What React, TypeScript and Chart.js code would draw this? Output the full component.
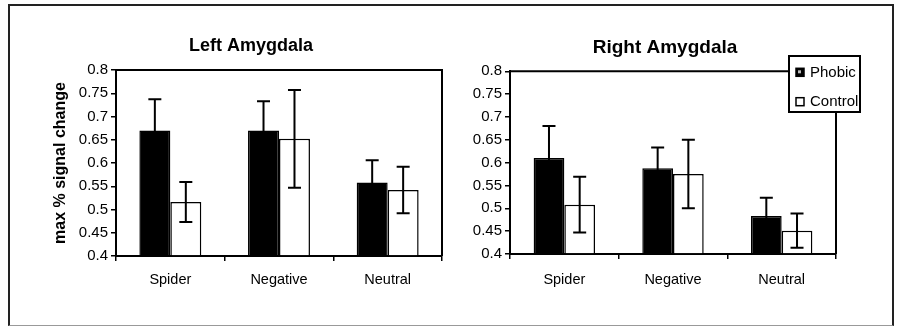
import { useEffect, useRef } from 'react';
import { Chart, registerables } from 'chart.js';

Chart.register(...registerables);

const categories = ['Spider', 'Negative', 'Neutral'];
const seriesNames = ['Phobic', 'Control'];
const yTickLabels = ['0.4', '0.45', '0.5', '0.55', '0.6', '0.65', '0.7', '0.75', '0.8'];
const yAxisTitle = 'max % signal change';
const leftTitle = 'Left Amygdala';
const rightTitle = 'Right Amygdala';

const leftPhobic = [0.67, 0.67, 0.558];
const leftPhobicErr = [0.067, 0.063, 0.048];
const leftControl = [0.516, 0.652, 0.542];
const leftControlErr = [0.043, 0.105, 0.05];

const rightPhobic = [0.61, 0.588, 0.483];
const rightPhobicErr = [0.07, 0.045, 0.04];
const rightControl = [0.508, 0.575, 0.451];
const rightControlErr = [0.061, 0.075, 0.0375];

const FONT = "'Liberation Sans', Arial, Helvetica, sans-serif";

const errorBarsPlugin = {
  id: 'errorBars',
  afterDatasetsDraw(chart: any) {
    const { ctx } = chart;
    const yScale = chart.scales.y;
    ctx.save();
    ctx.strokeStyle = '#000';
    ctx.lineWidth = 2;
    chart.data.datasets.forEach((ds: any, di: number) => {
      const meta = chart.getDatasetMeta(di);
      meta.data.forEach((bar: any, i: number) => {
        const v = ds.data[i];
        const e = ds.errors[i];
        const x = bar.x;
        const yTop = yScale.getPixelForValue(v + e);
        const yBot = yScale.getPixelForValue(v - e);
        const cap = 6.5;
        ctx.beginPath();
        ctx.moveTo(x, yTop);
        ctx.lineTo(x, yBot);
        ctx.moveTo(x - cap, yTop);
        ctx.lineTo(x + cap, yTop);
        ctx.moveTo(x - cap, yBot);
        ctx.lineTo(x + cap, yBot);
        ctx.stroke();
      });
    });
    ctx.restore();
  },
};

const plotFramePlugin = {
  id: 'plotFrame',
  afterDatasetsDraw(chart: any) {
    const { ctx, chartArea } = chart;
    ctx.save();
    ctx.strokeStyle = '#000';
    ctx.lineWidth = 2;
    ctx.beginPath();
    ctx.moveTo(chartArea.left, chartArea.top);
    ctx.lineTo(chartArea.right, chartArea.top);
    ctx.lineTo(chartArea.right, chartArea.bottom);
    ctx.stroke();
    ctx.restore();
  },
};

const boxLegendPlugin = {
  id: 'boxLegend',
  afterDraw(chart: any, _args: any, opts: any) {
    if (!opts || !opts.display) return;
    const { ctx, chartArea } = chart;
    const x = chartArea.right + opts.dx;
    const y = chartArea.top + opts.dy;
    const w = opts.w;
    const h = opts.h;
    ctx.save();
    ctx.fillStyle = '#fff';
    ctx.fillRect(x, y, w, h);
    ctx.lineWidth = 2;
    ctx.strokeStyle = '#000';
    ctx.strokeRect(x, y, w, h);
    chart.data.datasets.forEach((ds: any, i: number) => {
      const cy = y + opts.rows[i];
      ctx.fillStyle = ds.backgroundColor;
      ctx.fillRect(x + 7, cy - 4, 8, 8);
      ctx.lineWidth = 1.5;
      ctx.strokeStyle = '#000';
      ctx.strokeRect(x + 7, cy - 4, 8, 8);
      if (i === 0) {
        ctx.fillStyle = '#bbb';
        ctx.fillRect(x + 9, cy - 2, 3, 3);
      }
      ctx.fillStyle = '#000';
      ctx.font = `15px ${FONT}`;
      ctx.textBaseline = 'middle';
      ctx.textAlign = 'left';
      ctx.fillText(ds.label, x + 21, cy + 0.5);
    });
    ctx.restore();
  },
};

function makeConfig(p: any) {
  const tickFont = { family: FONT, size: 15 };
  return {
    type: 'bar',
    data: {
      labels: categories,
      datasets: [
        {
          label: seriesNames[0],
          data: p.phobic,
          errors: p.phobicErr,
          backgroundColor: '#000',
          borderColor: '#000',
          borderWidth: 1.5,
          base: 0.4,
          categoryPercentage: p.catPct,
          barPercentage: 1,
        },
        {
          label: seriesNames[1],
          data: p.control,
          errors: p.controlErr,
          backgroundColor: '#fff',
          borderColor: '#000',
          borderWidth: 1.5,
          base: 0.4,
          categoryPercentage: p.catPct,
          barPercentage: 1,
        },
      ],
    },
    options: {
      responsive: false,
      animation: false,
      devicePixelRatio: 1,
      layout: { padding: 0 },
      plugins: {
        legend: { display: false },
        tooltip: { enabled: false },
        title: {
          display: true,
          text: p.title,
          color: '#000',
          font: { family: FONT, size: p.titleSize, weight: 'bold' },
          padding: { top: p.titlePadTop, bottom: p.titlePadBottom },
        },
        boxLegend: p.legend,
      },
      scales: {
        x: {
          grid: {
            display: true,
            drawOnChartArea: false,
            drawTicks: true,
            tickLength: 5,
            color: '#000',
            lineWidth: 1.5,
            offset: true,
          },
          border: { display: true, color: '#000', width: 2 },
          ticks: { font: { family: FONT, size: 14.5 }, color: '#000', padding: p.xPad, maxRotation: 0 },
          afterFit: (s: any) => {
            s.height = p.xHeight;
          },
        },
        y: {
          min: 0.4,
          max: 0.8,
          ticks: {
            stepSize: 0.05,
            font: tickFont,
            color: '#000',
            padding: 3,
            callback: (_v: any, i: number) => yTickLabels[i],
          },
          grid: { drawOnChartArea: false, drawTicks: true, tickLength: 5, color: '#000', lineWidth: 1.5 },
          border: { display: true, color: '#000', width: 2 },
          title: {
            display: p.yTitle,
            text: yAxisTitle,
            color: '#000',
            font: { family: FONT, size: 16, weight: 'bold' },
            padding: { top: 31.4, bottom: 0 },
          },
          afterFit: (s: any) => {
            s.width = p.yWidth;
          },
        },
        spacer: {
          type: 'linear',
          position: 'right',
          display: true,
          ticks: { display: false },
          grid: { display: false, drawTicks: false },
          border: { display: false },
          afterFit: (s: any) => {
            s.width = p.padRight;
          },
        },
      },
    },
    plugins: [errorBarsPlugin, plotFramePlugin, boxLegendPlugin],
  };
}

function BarPanel(props: { cfg: any; left: number; width: number }) {
  const ref = useRef<HTMLCanvasElement | null>(null);
  useEffect(() => {
    if (!ref.current) return;
    const chart = new Chart(ref.current, makeConfig(props.cfg) as any);
    return () => chart.destroy();
  }, []);
  return (
    <canvas
      ref={ref}
      width={props.width}
      height={326}
      style={{ position: 'absolute', left: props.left, top: 0, width: props.width, height: 326 }}
    />
  );
}

export default function App() {
  const leftCfg = {
    phobic: leftPhobic,
    phobicErr: leftPhobicErr,
    control: leftControl,
    controlErr: leftControlErr,
    title: leftTitle,
    titleSize: 18,
    titlePadTop: 35,
    titlePadBottom: 13.4,
    padRight: 40,
    yWidth: 96,
    xHeight: 70,
    xPad: 10,
    catPct: 0.57,
    yTitle: true,
    legend: { display: false },
  };
  const rightCfg = {
    phobic: rightPhobic,
    phobicErr: rightPhobicErr,
    control: rightControl,
    controlErr: rightControlErr,
    title: rightTitle,
    titleSize: 19,
    titlePadTop: 36.6,
    titlePadBottom: 11.9,
    padRight: 54,
    yWidth: 70,
    xHeight: 72,
    xPad: 12,
    catPct: 0.565,
    yTitle: false,
    legend: { display: true, dx: -47, dy: -15.3, w: 71, h: 56, rows: [16.3, 45.7] },
  };
  return (
    <div
      style={{
        position: 'fixed',
        left: 0,
        top: 0,
        width: 897,
        height: 326,
        background: '#fff',
        overflow: 'hidden',
      }}
    >
      <div
        style={{
          position: 'absolute',
          left: 8,
          top: 4,
          width: 886,
          height: 322,
          boxSizing: 'border-box',
          borderTop: '2px solid #222',
          borderLeft: '2px solid #222',
          borderRight: '2px solid #222',
          borderBottom: '1px solid #999',
        }}
      />
      <BarPanel cfg={leftCfg} left={20} width={462} />
      <BarPanel cfg={rightCfg} left={440} width={450} />
    </div>
  );
}
